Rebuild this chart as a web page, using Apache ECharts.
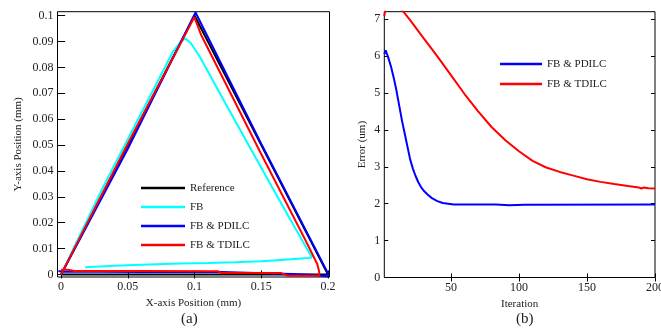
<!DOCTYPE html>
<html><head><meta charset="utf-8">
<script src="https://cdn.jsdelivr.net/npm/echarts@6/dist/echarts.min.js"></script>
<style>html,body{margin:0;padding:0;background:#fff}#c{width:661px;height:328px}</style>
</head><body><div id="c"></div>
<script>
// ---- tick labels ----
const posXTicks = [0, 0.05, 0.1, 0.15, 0.2];
const posYTicks = [0, 0.01, 0.02, 0.03, 0.04, 0.05, 0.06, 0.07, 0.08, 0.09, 0.1];
const iterTicks = [50, 100, 150, 200];
const errTicks = [0, 1, 2, 3, 4, 5, 6, 7];

// ---- (a) trajectories ----
const refX = [0, 0.1, 0.2, 0];
const refY = [0, 0.1, 0, 0];

const fbX = [0, 0.01, 0.03, 0.05, 0.07, 0.084, 0.089, 0.093, 0.097, 0.104, 0.12, 0.14, 0.16, 0.18, 0.188, 0.185, 0.17, 0.15, 0.13, 0.11, 0.09, 0.06, 0.04, 0.018];
const fbY = [0, 0.0108, 0.0322, 0.0522, 0.0722, 0.0862, 0.0895, 0.0912, 0.0895, 0.0841, 0.0690, 0.0505, 0.0320, 0.0138, 0.0065, 0.0063, 0.0058, 0.0051, 0.0047, 0.0044, 0.0042, 0.0037, 0.0033, 0.0028];

const pdX = [0, 0.05, 0.1008, 0.15, 0.2, 0.2, 0.19, 0.173, 0.172, 0.12, 0.06, 0.0, -0.002];
const pdY = [0, 0.0485, 0.1012, 0.0505, 0.0005, -0.0008, -0.0002, 0.0002, 0.0009, 0.0009, 0.0009, 0.0011, 0.0013];

const tdX = [0, 0.05, 0.0999, 0.105, 0.15, 0.183, 0.192, 0.1935, 0.1935, 0.17, 0.165, 0.12, 0.118, 0.06, 0.01, 0.005, 0];
const tdY = [0, 0.0505, 0.0994, 0.0925, 0.0465, 0.0134, 0.004, 0.001, -0.0005, -0.0005, 0.0005, 0.0005, 0.0012, 0.0013, 0.0013, 0.0018, 0.0018];

// ---- (b) error vs iteration ----
const pdIter = [1, 2, 3, 4, 6, 8, 10, 12, 14, 16, 18, 20, 22, 24, 26, 28, 30, 33, 36, 40, 44, 48, 52, 65, 66, 67, 71, 72, 83, 84, 93, 94, 104, 105, 200];
const pdErr  = [6.05, 6.15, 6.05, 5.95, 5.7, 5.4, 5.05, 4.65, 4.25, 3.9, 3.55, 3.2, 2.95, 2.75, 2.58, 2.45, 2.35, 2.24, 2.15, 2.07, 2.02, 2.0, 1.98, 1.98, 1.96, 1.98, 1.98, 1.96, 1.98, 1.96, 1.96, 1.98, 1.97, 1.98, 1.98];

const tdIter = [1, 2, 4, 7, 10, 13, 15, 20, 30, 40, 50, 60, 70, 80, 90, 100, 110, 120, 130, 140, 150, 160, 170, 180, 188, 190, 192, 195, 200];
const tdErr  = [7.08, 7.3, 7.5, 7.5, 7.4, 7.28, 7.2, 6.97, 6.48, 5.99, 5.48, 4.97, 4.5, 4.07, 3.72, 3.42, 3.16, 2.98, 2.86, 2.76, 2.66, 2.59, 2.53, 2.48, 2.44, 2.41, 2.44, 2.42, 2.41];

const zip = (a, b) => a.map((v, i) => [v, b[i]]);

const FONT = 'Liberation Serif';
const TXT = '#222';

function axisX(gridIndex, min, max, ticks, pos, name, showLabel) {
  return {
    type: 'value', gridIndex, min, max, position: pos,
    name: showLabel ? name : '', nameLocation: 'middle', nameGap: 17,
    nameTextStyle: { fontFamily: FONT, fontSize: 11, color: TXT },
    axisLine: { show: false },
    splitLine: { show: false },
    axisTick: { show: true, inside: true, length: 4, customValues: ticks, lineStyle: { color: '#000' } },
    axisLabel: { show: showLabel, customValues: ticks, margin: 4, fontFamily: FONT, fontSize: 12, color: TXT, hideOverlap: false }
  };
}
function axisY(gridIndex, min, max, ticks, pos, name, gap, showLabel) {
  return {
    type: 'value', gridIndex, min, max, position: pos,
    name: showLabel ? name : '', nameLocation: 'middle', nameGap: gap, nameRotate: 90,
    nameTextStyle: { fontFamily: FONT, fontSize: 11, color: TXT },
    axisLine: { show: false },
    splitLine: { show: false },
    axisTick: { show: true, inside: true, length: 4, customValues: ticks, lineStyle: { color: '#000' } },
    axisLabel: { show: showLabel, customValues: ticks, margin: 4, fontFamily: FONT, fontSize: 12, color: TXT }
  };
}
function line(name, data, color, xi, yi, z) {
  return { type: 'line', name, data, xAxisIndex: xi, yAxisIndex: yi, showSymbol: false, symbol: 'none',
    color, lineStyle: { color, width: 2 }, z, animation: false };
}

const chart = echarts.init(document.getElementById('c'), null, { renderer: 'canvas' });
chart.setOption({
  animation: false,
  backgroundColor: '#fff',
  grid: [
    { left: 57.5, top: 11.7, width: 272, height: 265.3, show: true, borderColor: '#000', borderWidth: 1, backgroundColor: 'transparent', outerBoundsMode: 'none', containLabel: false },
    { left: 384.3, top: 11.7, width: 270.7, height: 265.8, show: true, borderColor: '#000', borderWidth: 1, backgroundColor: 'transparent', outerBoundsMode: 'none', containLabel: false }
  ],
  xAxis: [
    axisX(0, -0.0027, 0.2012, posXTicks, 'bottom', 'X-axis Position (mm)', true),
    axisX(0, -0.0027, 0.2012, posXTicks, 'top', '', false),
    axisX(1, 1, 200, iterTicks, 'bottom', 'Iteration', true),
    axisX(1, 1, 200, iterTicks, 'top', '', false)
  ],
  yAxis: [
    axisY(0, -0.001, 0.1015, posYTicks, 'left', 'Y-axis Position (mm)', 34, true),
    axisY(0, -0.001, 0.1015, posYTicks, 'right', '', 0, false),
    axisY(1, 0, 7.2, errTicks, 'left', 'Error (um)', 17, true),
    axisY(1, 0, 7.2, errTicks, 'right', '', 0, false)
  ],
  legend: [
    { orient: 'vertical', left: 136, top: 176, itemWidth: 44, itemHeight: 2.5, itemGap: 5, icon: 'rect',
      data: ['Reference', 'FB', 'FB & PDILC', 'FB & TDILC'],
      textStyle: { fontFamily: FONT, fontSize: 11, color: TXT, lineHeight: 14 }, selectedMode: false },
    { orient: 'vertical', left: 495, top: 52, itemWidth: 42, itemHeight: 2.5, itemGap: 6, icon: 'rect',
      data: ['FB & PDILC', 'FB & TDILC'],
      textStyle: { fontFamily: FONT, fontSize: 11, color: TXT, lineHeight: 14 }, selectedMode: false }
  ],
  graphic: [
    { type: 'text', left: 181, top: 312, style: { text: '(a)', font: '15px "Liberation Serif"', fill: TXT } },
    { type: 'text', left: 516, top: 312, style: { text: '(b)', font: '15px "Liberation Serif"', fill: TXT } }
  ],
  series: [
    line('Reference', zip(refX, refY), '#000000', 0, 0, 2),
    line('FB', zip(fbX, fbY), '#00FFFF', 0, 0, 3),
    line('FB & PDILC', zip(pdX, pdY), '#0000FF', 0, 0, 4),
    line('FB & TDILC', zip(tdX, tdY), '#FF0000', 0, 0, 5),
    line('FB & PDILC', zip(pdIter, pdErr), '#0000FF', 2, 2, 4),
    line('FB & TDILC', zip(tdIter, tdErr), '#FF0000', 2, 2, 5)
  ]
});
</script></body></html>
